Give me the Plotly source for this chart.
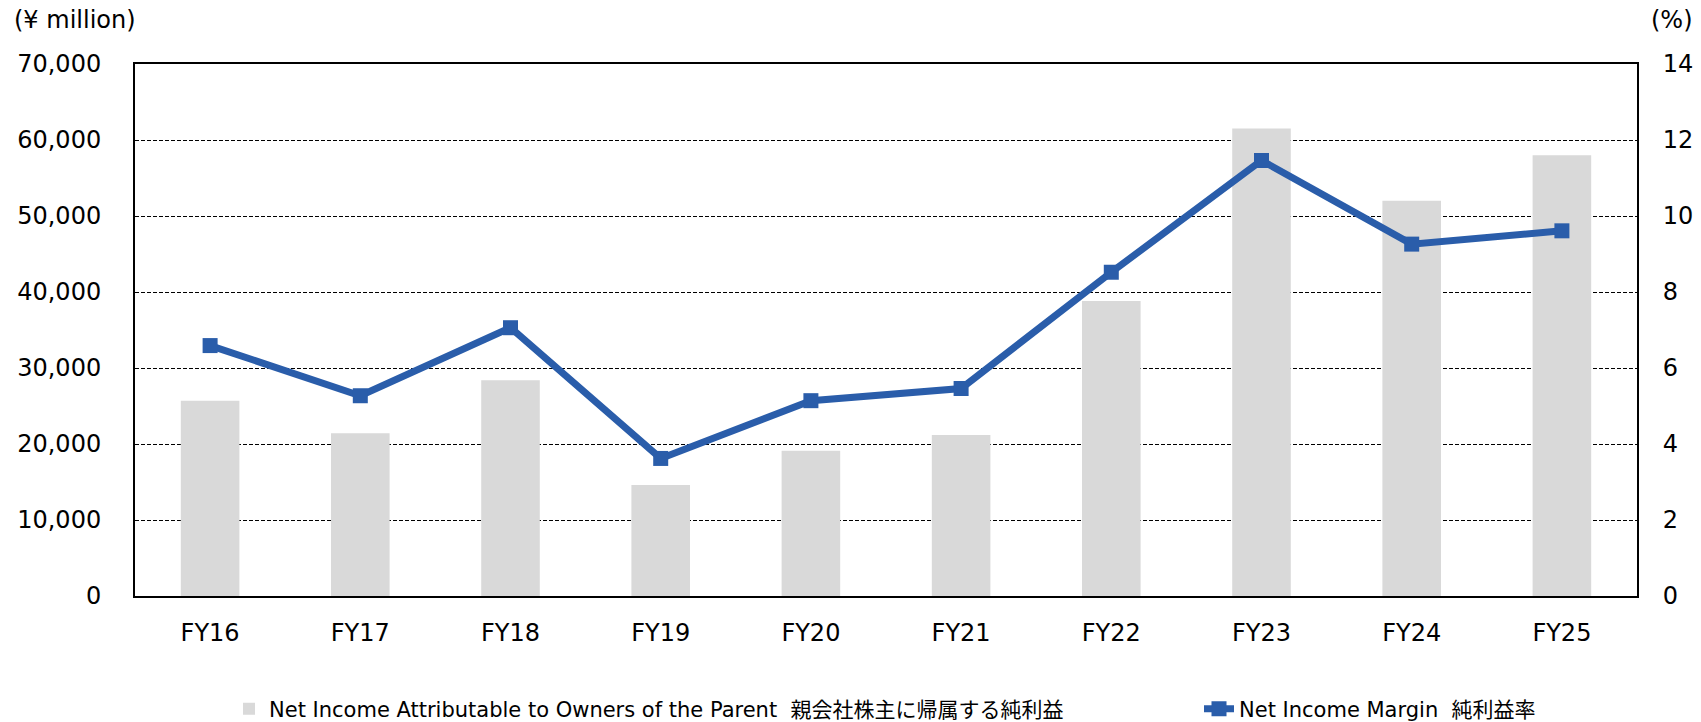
import plotly.graph_objects as go

categories = ["FY16", "FY17", "FY18", "FY19", "FY20", "FY21", "FY22", "FY23", "FY24", "FY25"]
net_income = [25700, 21400, 28400, 14600, 19100, 21200, 38800, 61500, 52000, 58000]
net_margin = [6.59, 5.27, 7.06, 3.62, 5.14, 5.46, 8.52, 11.46, 9.26, 9.61]

left_ticks = [0, 10000, 20000, 30000, 40000, 50000, 60000, 70000]
right_ticks = [0, 2, 4, 6, 8, 10, 12, 14]

bar_name = "Net Income Attributable to Owners of the Parent\u00a0 親会社株主に帰属する純利益"
line_name = "Net Income Margin\u00a0 純利益率"

FONT = "DejaVu Sans, Noto Sans CJK JP, sans-serif"
BLUE = "#2A5DAA"

W, H = 1701, 722
L, R, T, B = 135, 1637, 64, 596
PW, PH = R - L, B - T

fig = go.Figure()
fig.add_trace(go.Bar(
    x=categories, y=net_income, name=bar_name,
    marker=dict(color="#D9D9D9", line=dict(width=0)),
    legend="legend", yaxis="y",
))
fig.add_trace(go.Scatter(
    x=categories, y=net_margin, name=line_name, mode="lines+markers",
    line=dict(color=BLUE, width=7),
    marker=dict(symbol="square", size=15, color=BLUE),
    legend="legend2", yaxis="y2",
))

fig.update_layout(
    width=W, height=H,
    margin=dict(l=L, r=W - R, t=T, b=H - B, autoexpand=False),
    paper_bgcolor="white", plot_bgcolor="white",
    font=dict(family=FONT, size=24, color="#000000"),
    bargap=0.61,
    showlegend=True,
    xaxis=dict(
        range=[-0.5, len(categories) - 0.5],
        showline=True, linecolor="#000000", linewidth=2, mirror=True,
        showgrid=False, ticks="", ticklabelstandoff=14, automargin=False,
        tickfont=dict(size=24),
    ),
    yaxis=dict(
        range=[0, 70000], tickvals=left_ticks, tickformat=",",
        showline=True, linecolor="#000000", linewidth=2,
        showgrid=True, gridcolor="#000000", gridwidth=1, griddash="4px,2px",
        zeroline=False, ticks="", ticklabelstandoff=27, automargin=False,
        tickfont=dict(size=24),
    ),
    yaxis2=dict(
        range=[0, 14], tickvals=right_ticks, overlaying="y", side="right",
        showline=True, linecolor="#000000", linewidth=2,
        showgrid=False, zeroline=False, ticks="", ticklabelstandoff=19,
        automargin=False, tickfont=dict(size=24),
    ),
    legend=dict(
        orientation="h", xref="container", yref="container",
        x=229 / W, xanchor="left",
        y=1 - 709 / H, yanchor="middle",
        font=dict(size=21), bgcolor="rgba(0,0,0,0)",
    ),
    legend2=dict(
        orientation="h", xref="container", yref="container",
        x=1199 / W, xanchor="left",
        y=1 - 709 / H, yanchor="middle",
        font=dict(size=21), bgcolor="rgba(0,0,0,0)",
    ),
    annotations=[
        dict(text="(¥ million)", xref="paper", yref="paper",
             x=(12 - L) / PW, y=(B - 20) / PH,
             xanchor="left", yanchor="middle", showarrow=False,
             font=dict(size=24)),
        dict(text="(%)", xref="paper", yref="paper",
             x=(1695 - L) / PW, y=(B - 20) / PH,
             xanchor="right", yanchor="middle", showarrow=False,
             font=dict(size=24)),
    ],
)

fig.write_html("out.html", config={"displayModeBar": False},
               post_script="document.body.style.margin='0';")
